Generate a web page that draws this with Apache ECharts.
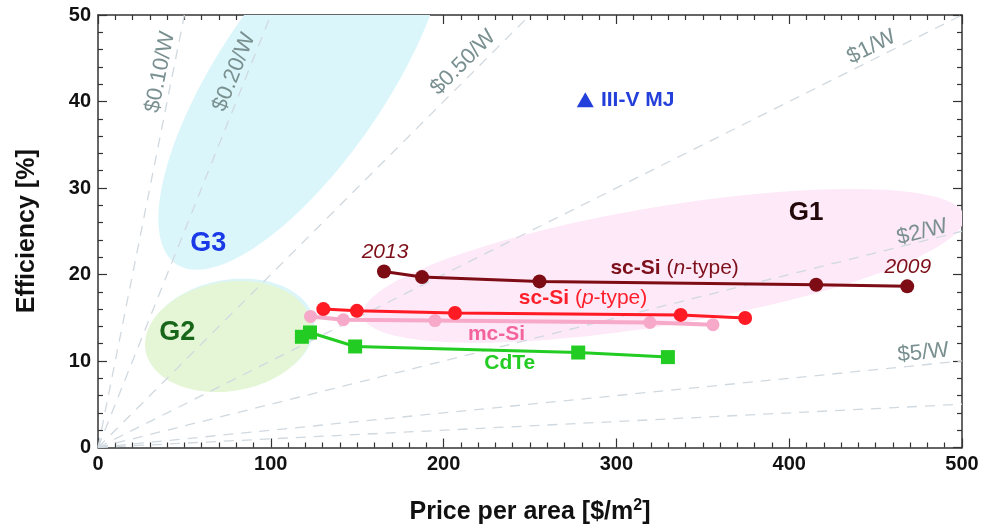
<!DOCTYPE html>
<html><head><meta charset="utf-8">
<script src="https://cdn.jsdelivr.net/npm/echarts@6/dist/echarts.min.js"></script>
<style>html,body{margin:0;padding:0;background:#fff}#c{width:987px;height:530px}</style>
</head><body><div id="c"></div>
<script>
// ---- data ----
const scN_price = [165.5, 187.5, 255.5, 415.6, 468.3];
const scN_eff   = [20.35, 19.7, 19.2, 18.82, 18.63];
const scP_price = [130.4, 149.8, 206.6, 337.2, 374.5];
const scP_eff   = [16.0, 15.8, 15.55, 15.33, 14.97];
const mc_price  = [123.0, 142.0, 195.0, 319.4, 355.9];
const mc_eff    = [15.15, 14.77, 14.67, 14.45, 14.2];
const cdte_price = [118.0, 122.7, 148.8, 277.9, 329.8];
const cdte_eff   = [12.8, 13.3, 11.68, 10.98, 10.45];
const mj_price = [282];
const mj_eff   = [40.2];

const costPerWatt = [0.1, 0.2, 0.5, 1, 2, 5, 10];          // $/W iso-cost lines
const costText = ['$0.10/W', '$0.20/W', '$0.50/W', '$1/W', '$2/W', '$5/W'];
const costTextX = [36.0, 78.8, 211.4, 447.6, 477.0, 477.6];
const costTextY = [43.4, 43.4, 44.5, 46.3, 24.9, 10.95];
const costTextRot = [78.7, 68.2, 45, 26.6, 14, 5.7];

const xTicks = [0, 100, 200, 300, 400, 500];
const yTicks = [0, 10, 20, 30, 40, 50];

// generation regions (ellipses in data units: centre + two conjugate half-axes)
const regionName = ['G3', 'G2halo', 'G2', 'G1'];
const regionCx = [118.8, 77.0, 75.5, 327.3];
const regionCy = [42.9, 13.1, 12.83, 21.0];
const regionPx = [-61.7, -6.76, -6.76, 174.0];
const regionPy = [-22.35, -6.42, -6.42, 5.55];
const regionQx = [56.8, 47.8, 47.8, 0];
const regionQy = [0, 0, 0, 6.94];

const noteText = ['G3', 'G2', 'G1', '2013', '2009',
  '{b|sc-Si} ({i|n}-type)', '{b|sc-Si} ({i|p}-type)', 'mc-Si', 'CdTe', 'III-V MJ'];
const noteX = [63.8, 45.8, 409.8, 166.1, 468.6, 333.7, 280.7, 230.6, 238.3, 312.3];
const noteY = [23.6, 13.26, 27.1, 22.6, 20.9, 20.74, 17.27, 13.14, 9.76, 40.2];

// ---- styles ----
const FONT = '"Liberation Sans", Arial, Helvetica, sans-serif';
const regionColor = ['#dbf6fa', '#dcf5f8', '#e4f6d6', '#fde9f8'];
const noteStyle = [
  {color: '#1a3ae8', fontSize: 27, fontWeight: 'bold'},
  {color: '#17661a', fontSize: 27, fontWeight: 'bold'},
  {color: '#220808', fontSize: 26, fontWeight: 'bold'},
  {color: '#7d0f1a', fontSize: 21, fontStyle: 'italic'},
  {color: '#7d0f1a', fontSize: 21, fontStyle: 'italic'},
  {color: '#7d0f1a', fontSize: 21},
  {color: '#ff1f2a', fontSize: 21},
  {color: '#f2649a', fontSize: 21, fontWeight: 'bold'},
  {color: '#22cc22', fontSize: 21, fontWeight: 'bold'},
  {color: '#2440da', fontSize: 21, fontWeight: 'bold'}
];
const COL_N = '#7d0c14', COL_P = '#ff1a24', COL_MC = '#f6a9c8', COL_CD = '#22cc22', COL_MJ = '#2440da';
const DASH = '#d0d9e0';

const zip = (a, b) => a.map((v, i) => [v, b[i]]);

const chart = echarts.init(document.getElementById('c'), null, {renderer: 'canvas'});

const axisCommonX = {
  type: 'value', min: xTicks[0], max: xTicks[xTicks.length - 1], interval: xTicks[1] - xTicks[0],
  axisLine: {show: true, onZero: false, lineStyle: {color: '#333', width: 1.5}},
  axisTick: {show: true, inside: true, length: 9, lineStyle: {color: '#333', width: 1.2}},
  minorTick: {show: true, splitNumber: 10, length: 5, lineStyle: {color: '#333', width: 1.2}},
  splitLine: {show: false}, minorSplitLine: {show: false}
};
const axisCommonY = {
  type: 'value', min: yTicks[0], max: yTicks[yTicks.length - 1], interval: yTicks[1] - yTicks[0],
  axisLine: {show: true, onZero: false, lineStyle: {color: '#333', width: 1.5}},
  axisTick: {show: true, inside: true, length: 9, lineStyle: {color: '#333', width: 1.2}},
  minorTick: {show: true, splitNumber: 5, length: 5, lineStyle: {color: '#333', width: 1.2}},
  splitLine: {show: false}, minorSplitLine: {show: false}
};
const tickLabel = {show: true, fontSize: 20, fontWeight: 'bold', color: '#111', fontFamily: FONT};

const costLines = costPerWatt.map(c => {
  const endX = Math.min(xTicks[xTicks.length - 1], 500 * c);
  return {
    type: 'line', data: [[0, 0], [endX, endX / (10 * c)]], showSymbol: false, silent: true, z: 2,
    lineStyle: {color: DASH, width: 1.3, type: [10, 8]}, animation: false
  };
});

const richBase = (st) => ({
  b: {fontWeight: 'bold', fontSize: st.fontSize, color: st.color, fontFamily: FONT},
  i: {fontStyle: 'italic', fontSize: st.fontSize, color: st.color, fontFamily: FONT}
});

const noteData = noteText.map((t, i) => ({
  value: [noteX[i], noteY[i]],
  label: Object.assign({show: true, position: 'inside', formatter: t, fontFamily: FONT, opacity: 1,
    align: 'center', verticalAlign: 'middle', rich: richBase(noteStyle[i])}, noteStyle[i])
}));
const costData = costText.map((t, i) => ({
  value: [costTextX[i], costTextY[i]],
  label: {show: true, position: 'inside', formatter: t, rotate: costTextRot[i], fontFamily: FONT, opacity: 1,
    fontSize: 22, color: '#7a9090', align: 'center', verticalAlign: 'middle'}
}));

const option = {
  animation: false,
  backgroundColor: '#fff',
  textStyle: {fontFamily: FONT},
  grid: {left: 98, right: 25, top: 15, bottom: 82, containLabel: false},
  xAxis: [
    Object.assign({}, axisCommonX, {position: 'bottom', axisLabel: Object.assign({margin: 7}, tickLabel),
      name: '{a|Price per area [$/m}{s|2}{a|]}', nameLocation: 'middle', nameGap: 50,
      nameTextStyle: {rich: {
        a: {fontSize: 25, fontWeight: 'bold', color: '#111', fontFamily: FONT, lineHeight: 30},
        s: {fontSize: 16, fontWeight: 'bold', color: '#111', fontFamily: FONT, verticalAlign: 'top', lineHeight: 18}
      }}}),
    Object.assign({}, axisCommonX, {position: 'top', axisLabel: {show: false}})
  ],
  yAxis: [
    Object.assign({}, axisCommonY, {position: 'left', axisLabel: Object.assign({margin: 7}, tickLabel),
      name: 'Efficiency [%]', nameLocation: 'middle', nameGap: 58, nameRotate: 90,
      nameTextStyle: {fontSize: 25, fontWeight: 'bold', color: '#111', fontFamily: FONT}}),
    Object.assign({}, axisCommonY, {position: 'right', axisLabel: {show: false}})
  ],
  series: [
    {
      type: 'custom', z: 1, silent: true, clip: true,
      data: regionName.map((n, i) => [regionCx[i], regionCy[i]]),
      encode: {x: 0, y: 1},
      renderItem: function (params, api) {
        const i = params.dataIndex;
        const pts = [];
        const N = 160;
        for (let k = 0; k < N; k++) {
          const t = 2 * Math.PI * k / N, c = Math.cos(t), s = Math.sin(t);
          pts.push(api.coord([regionCx[i] + regionPx[i] * c + regionQx[i] * s,
                              regionCy[i] + regionPy[i] * c + regionQy[i] * s]));
        }
        const cs = params.coordSys;
        return {
          type: 'polygon', shape: {points: pts}, style: {fill: regionColor[i]},
          clipPath: {type: 'rect', shape: {x: cs.x, y: cs.y, width: cs.width, height: cs.height}}
        };
      }
    },
    ...costLines,
    {type: 'line', name: 'mc-Si', data: zip(mc_price, mc_eff), z: 5, symbol: 'circle', symbolSize: 13,
      lineStyle: {color: COL_MC, width: 4}, itemStyle: {color: COL_MC, opacity: 1}},
    {type: 'line', name: 'sc-Si p', data: zip(scP_price, scP_eff), z: 6, symbol: 'circle', symbolSize: 14,
      lineStyle: {color: COL_P, width: 3}, itemStyle: {color: COL_P, opacity: 1}},
    {type: 'line', name: 'CdTe', data: zip(cdte_price, cdte_eff), z: 6, symbol: 'rect', symbolSize: 14,
      lineStyle: {color: COL_CD, width: 3}, itemStyle: {color: COL_CD, opacity: 1}},
    {type: 'line', name: 'sc-Si n', data: zip(scN_price, scN_eff), z: 6, symbol: 'circle', symbolSize: 14,
      lineStyle: {color: COL_N, width: 3}, itemStyle: {color: COL_N, opacity: 1}},
    {type: 'scatter', name: 'III-V MJ', data: zip(mj_price, mj_eff), z: 6, symbol: 'triangle', symbolSize: [17, 15],
      itemStyle: {color: COL_MJ, opacity: 1}},
    {type: 'scatter', name: 'notes', data: noteData.concat(costData), z: 10, symbolSize: 1, silent: true,
      itemStyle: {color: 'rgba(0,0,0,0)', opacity: 1}}
  ]
};
chart.setOption(option);
</script></body></html>
